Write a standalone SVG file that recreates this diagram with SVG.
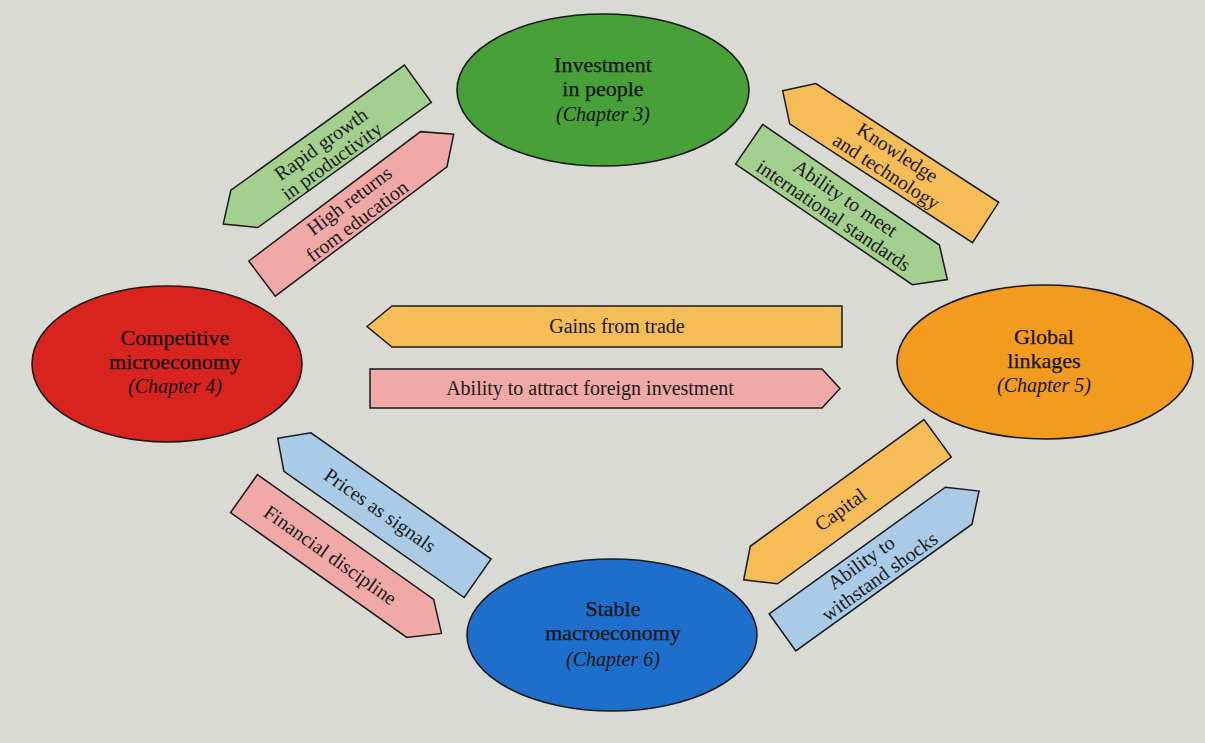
<svg xmlns="http://www.w3.org/2000/svg" width="1205" height="743" viewBox="0 0 1205 743">
<style>
.node ellipse{stroke:#1a1a1a;stroke-width:1.6}
.t{font-family:"Liberation Serif","Times New Roman",serif;font-size:22px;fill:#141414;text-anchor:middle;stroke:#141414;stroke-width:0.25}
.c{font-family:"Liberation Serif","Times New Roman",serif;font-size:20px;font-style:italic;fill:#141414;text-anchor:middle}
.arr polygon{stroke:#1a1a1a;stroke-width:1.5;stroke-linejoin:miter}
.l{font-family:"Liberation Serif","Times New Roman",serif;font-size:20px;fill:#1a1a1a;text-anchor:middle}
.g{fill:#a3d08e}.p{fill:#f0a9a7}.o{fill:#f6bc58}.b{fill:#a9cbe8}
</style>
<rect x="0" y="0" width="1205" height="743" fill="#d9dad4"/>
<g id="connectors">
  <g id="arrow-rapid-growth" class="arr" transform="translate(331.1,146.3) rotate(-35.8)">
    <polygon class="g" points="-133,0 -107,-23 107,-23 107,23 -107,23"/>
    <text class="l" x="-7" y="-1">Rapid growth</text>
    <text class="l" x="-8" y="19">in productivity</text>
  </g>
  <g id="arrow-high-returns" class="arr" transform="translate(347.9,213.9) rotate(-37)">
    <polygon class="p" points="-107.5,-22 107.5,-22 132.5,0 107.5,22 -107.5,22"/>
    <text class="l" x="9" y="-3">High returns</text>
    <text class="l" x="3" y="18">from education</text>
  </g>
  <g id="arrow-knowledge" class="arr" transform="translate(894.2,163.1) rotate(33)">
    <polygon class="o" points="-133,0 -109,-24 109,-24 109,24 -109,24"/>
    <text class="l" x="-3" y="-4">Knowledge</text>
    <text class="l" x="-2" y="18">and technology</text>
  </g>
  <g id="arrow-standards" class="arr" transform="translate(837.5,204.6) rotate(34.3)">
    <polygon class="g" points="-107,-24 107,-24 133,0 107,24 -107,24"/>
    <text class="l" x="3" y="-3">Ability to meet</text>
    <text class="l" x="3" y="18">international standards</text>
  </g>
  <g id="arrow-gains" class="arr">
    <polygon class="o" points="367,326.5 392,306 842,306 842,347 392,347"/>
    <text class="l" x="617" y="333">Gains from trade</text>
  </g>
  <g id="arrow-foreign" class="arr">
    <polygon class="p" points="370,369 822,369 840,388.5 822,408 370,408"/>
    <text class="l" x="590" y="395">Ability to attract foreign investment</text>
  </g>
  <g id="arrow-prices" class="arr" transform="translate(387.5,515.2) rotate(35)">
    <polygon class="b" points="-134,0 -110,-23.5 110,-23.5 110,23.5 -110,23.5"/>
    <text class="l" x="-9" y="7">Prices as signals</text>
  </g>
  <g id="arrow-financial" class="arr" transform="translate(332.1,556) rotate(35.3)">
    <polygon class="p" points="-108,-23.3 108,-23.3 134,0 108,23.3 -108,23.3"/>
    <text class="l" x="-2" y="7">Financial discipline</text>
  </g>
  <g id="arrow-capital" class="arr" transform="translate(850.8,501.7) rotate(-36.1)">
    <polygon class="o" points="-132.5,0 -107.5,-23.2 107.5,-23.2 107.5,23.2 -107.5,23.2"/>
    <text class="l" x="-13" y="7">Capital</text>
  </g>
  <g id="arrow-shocks" class="arr" transform="translate(870.6,569) rotate(-35.7)">
    <polygon class="b" points="-108.5,-22.8 108.5,-22.8 133.5,0 108.5,22.8 -108.5,22.8"/>
    <text class="l" x="-4" y="-4">Ability to</text>
    <text class="l" x="3" y="18">withstand shocks</text>
  </g>
</g>
<g id="node-people" class="node">
  <ellipse cx="603" cy="90" rx="146" ry="76" fill="#47a038"/>
  <text class="t" x="603" y="72">Investment</text>
  <text class="t" x="603" y="96">in people</text>
  <text class="c" x="603" y="121">(Chapter 3)</text>
</g>
<g id="node-micro" class="node">
  <ellipse cx="167" cy="364" rx="135" ry="78" fill="#d9231e"/>
  <text class="t" x="175" y="345">Competitive</text>
  <text class="t" x="175" y="369">microeconomy</text>
  <text class="c" x="175" y="393">(Chapter 4)</text>
</g>
<g id="node-global" class="node">
  <ellipse cx="1045" cy="362" rx="148" ry="77" fill="#f39b1f"/>
  <text class="t" x="1044" y="344">Global</text>
  <text class="t" x="1044" y="368">linkages</text>
  <text class="c" x="1044" y="392">(Chapter 5)</text>
</g>
<g id="node-macro" class="node">
  <ellipse cx="612" cy="635" rx="145" ry="76" fill="#1d6fcb"/>
  <text class="t" x="613" y="616">Stable</text>
  <text class="t" x="613" y="640">macroeconomy</text>
  <text class="c" x="613" y="666">(Chapter 6)</text>
</g>
</svg>
